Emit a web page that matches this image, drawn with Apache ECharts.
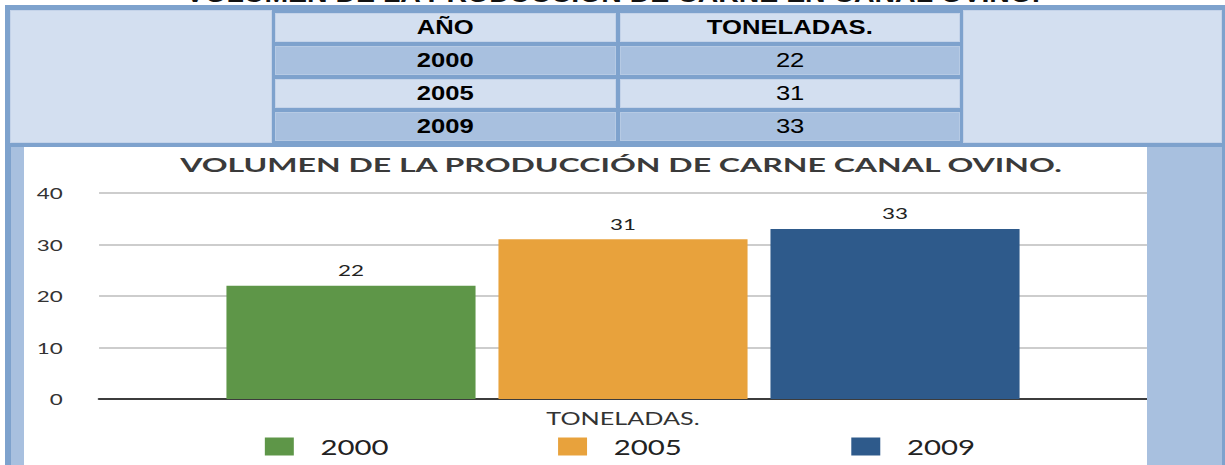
<!DOCTYPE html>
<html>
<head>
<meta charset="utf-8">
<script src="https://cdn.jsdelivr.net/npm/echarts@6/dist/echarts.min.js"></script>
<style>
  body { margin: 0; width: 1225px; height: 465px; overflow: hidden; background: #fff; position: relative; font-family: "Liberation Sans", Arial, sans-serif; }
  .abs { position: absolute; box-sizing: border-box; }
  .frame { background: #7ea2cd; }
  .light { background: #d3dff0; border: 1px solid #c4d3e9; }
  .dark { background: #a8c0df; border: 1px solid #b6cae4; }
  .cell { display: flex; align-items: center; justify-content: center; color: #000; font-size: 20px; }
  .cell span { display: inline-block; transform: scaleX(1.28); }
  #topTitle { position: absolute; left: 0; top: -18px; width: 1225px; text-align: center; font-weight: bold; font-size: 24px; line-height: 24px; color: #111; white-space: nowrap; }
  #topTitle span { display: inline-block; transform-origin: 50% 50%; }
  #chart { position: absolute; left: 24px; top: 147px; width: 802px; height: 318px; transform: scaleX(1.4002); transform-origin: 0 0; }
</style>
</head>
<body>
<div id="topTitle"><span id="topTitleText">VOLUMEN DE LA PRODUCCIÓN DE CARNE EN CANAL OVINO.</span></div>

<!-- marco de la tabla -->
<div class="abs frame" style="left:5px;top:5px;width:1220px;height:142px"></div>
<div class="abs light" style="left:10px;top:10px;width:262px;height:133px"></div>
<div class="abs light" style="left:963px;top:10px;width:259px;height:133px"></div>
<div id="table"></div>

<!-- marco de la grafica -->
<div class="abs frame" style="left:5px;top:146px;width:1220px;height:319px"></div>
<div class="abs" style="left:11px;top:147px;width:13px;height:318px;background:#a8c0df"></div>
<div class="abs" style="left:24px;top:147px;width:1123px;height:318px;background:#fff"></div>
<div class="abs" style="left:1147px;top:147px;width:75px;height:318px;background:#a8c0df"></div>
<div id="chart"></div>

<script>
// datos
const tableHeader = ['AÑO', 'TONELADAS.']
const years = ['2000', '2005', '2009']
const tons = [22, 31, 33]
const category = ['TONELADAS.']
const chartTitle = 'VOLUMEN DE LA PRODUCCIÓN DE CARNE CANAL OVINO.'
const yMin = 0
const yMax = 40
const yStep = 10

const S = 1.4002 // el grafico original esta estirado a lo ancho

// tabla
const table = document.getElementById('table')
const colX = [275, 620]
const colW = [341, 340]
const rows = [tableHeader].concat(years.map((y, i) => [y, String(tons[i])]))
rows.forEach((row, r) => {
  row.forEach((txt, c) => {
    const d = document.createElement('div')
    d.className = 'abs cell ' + (r % 2 === 1 ? 'dark' : 'light')
    d.style.left = colX[c] + 'px'
    d.style.top = (13 + r * 33) + 'px'
    d.style.width = colW[c] + 'px'
    d.style.height = '29px'
    d.style.fontWeight = (r === 0 || c === 0) ? 'bold' : 'normal'
    const s = document.createElement('span')
    s.textContent = txt
    d.appendChild(s)
    table.appendChild(d)
  })
})

// titulo cortado arriba
const tt = document.getElementById('topTitleText')
tt.style.transform = 'scaleX(' + (854 / tt.offsetWidth) + ')'

// ancho del titulo del grafico
const ctx = document.createElement('canvas').getContext('2d')
const titleFont = 'bold 18px Lato'
ctx.font = titleFont
const titleScale = (884 / S) / ctx.measureText(chartTitle).width

const colors = ['#5e9648', '#e8a23c', '#2e5a8b']

const chart = echarts.init(document.getElementById('chart'), null, { renderer: 'svg' })
chart.setOption({
  animation: false,
  backgroundColor: 'transparent',
  graphic: [{
    type: 'text',
    x: (621 - 24) / S,
    y: 18,
    scaleX: titleScale,
    style: {
      text: chartTitle,
      font: titleFont,
      fill: '#3a3a3a',
      textAlign: 'center',
      textVerticalAlign: 'middle'
    }
  }],
  grid: { left: 53.6, right: 0, top: 46, bottom: 66 },
  legend: {
    left: 172,
    top: 289,
    padding: 0,
    itemWidth: 20.7,
    itemHeight: 18,
    itemGap: 121,
    icon: 'rect',
    textStyle: { fontFamily: 'Lato', fontSize: 21, color: '#222', padding: [0, 0, 0, 14] },
    data: years
  },
  xAxis: {
    type: 'category',
    data: category,
    axisLine: { lineStyle: { color: '#3c3c3c', width: 2 } },
    axisTick: { show: false },
    axisLabel: { margin: 10, fontFamily: 'Lato', fontSize: 18, color: '#333' }
  },
  yAxis: {
    type: 'value',
    min: yMin,
    max: yMax,
    interval: yStep,
    axisLine: { show: false },
    axisTick: { show: false },
    axisLabel: { margin: 26, fontFamily: 'Lato', fontSize: 16, color: '#333' },
    splitLine: { lineStyle: { color: '#bdbdbd', width: 1.5 } }
  },
  series: years.map((y, i) => ({
    name: y,
    type: 'bar',
    data: [tons[i]],
    barWidth: 177.9,
    barGap: '9.2%',
    itemStyle: { color: colors[i] },
    label: {
      show: true,
      position: 'top',
      distance: 8,
      fontFamily: 'Lato',
      fontSize: 16,
      color: '#222'
    }
  }))
})
</script>
</body>
</html>
